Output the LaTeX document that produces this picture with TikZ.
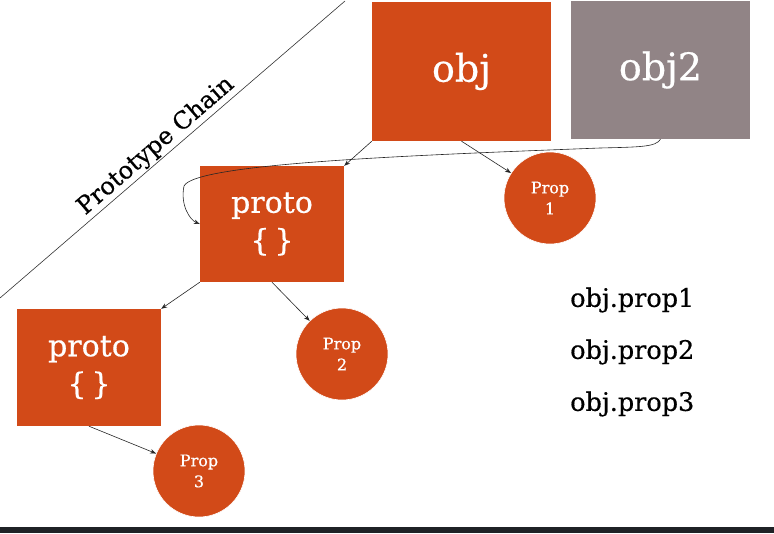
\documentclass[tikz,border=0pt]{standalone}
\usepackage{fontspec}
\setmainfont{DejaVu Serif}
\newfontfamily\rk{DejaVu Serif}[FakeBold=0.5]
\usetikzlibrary{arrows.meta}
\definecolor{rust}{HTML}{D24A18}
\definecolor{mauve}{HTML}{918486}
\definecolor{barc}{HTML}{1F2226}
\tikzset{
  box/.style={fill=rust, draw=none, text=white, align=center, inner sep=0pt},
  gbox/.style={fill=mauve, draw=none, text=white, align=center, inner sep=0pt},
  propc/.style={circle, fill=rust, draw=white, line width=0.6pt, text=white, align=center, minimum size=92pt, inner sep=0pt, font=\rk\fontsize{16}{21}\selectfont},
  arr/.style={-{Stealth[length=6pt,width=4.5pt]}, draw=black!85, line width=0.6pt},
  code/.style={anchor=west, text=black, font=\rk\fontsize{25.5}{30}\selectfont, inner sep=0pt}
}
\begin{document}
\begin{tikzpicture}[x=1pt,y=-1pt]
\useasboundingbox (0,0) rectangle (774,533);
\fill[white] (0,0) rectangle (774,533);
\fill[barc] (0,527) rectangle (774,533);
% diagonal
\coordinate (d1) at (0,298);
\coordinate (d2) at (345,1);
\draw[black!80, line width=0.6pt] (d1) -- (d2);
\node[rotate=40.8, font=\rk\fontsize{24}{28}\selectfont, inner sep=0pt] (title) at (156,146) {Prototype Chain};
% boxes
\node[box, minimum width=179pt, minimum height=139pt, font=\rk\fontsize{38}{44}\selectfont] (obj) at (461.5,71.5) {obj};
\node[gbox, minimum width=179pt, minimum height=138pt, font=\rk\fontsize{38}{44}\selectfont] (obj2) at (660.5,70) {obj2};
\node[box, minimum width=144pt, minimum height=116pt, font=\rk\fontsize{30}{38}\selectfont] (proto1) at (272,224) {proto\\\{\,\}};
\node[box, minimum width=144pt, minimum height=117pt, font=\rk\fontsize{30}{38}\selectfont] (proto2) at (89,367.5) {proto\\\{\,\}};
% circles
\node[propc] (p1) at (550,198) {Prop\\1};
\node[propc] (p2) at (342,354) {Prop\\2};
\node[propc] (p3) at (199,471) {Prop\\3};
% connectors
\draw[arr] (obj.south west) -- (proto1.north east);
\draw[arr] (obj.south) -- (p1);
\draw[arr] (obj2.south) .. controls (656,147) and (640,147) .. (600,148) .. controls (420,155) and (195,163) .. (184,186) .. controls (180,205) and (190,220) .. (proto1.west);
\draw[arr] (proto1.south west) -- (proto2.north east);
\draw[arr] (proto1.south) -- (p2);
\draw[arr] (proto2.south) -- (p3);
% code text
\node[code] (c1) at (570,300) {obj.prop1};
\node[code] (c2) at (570,352) {obj.prop2};
\node[code] (c3) at (570,404) {obj.prop3};
\end{tikzpicture}
\end{document}
